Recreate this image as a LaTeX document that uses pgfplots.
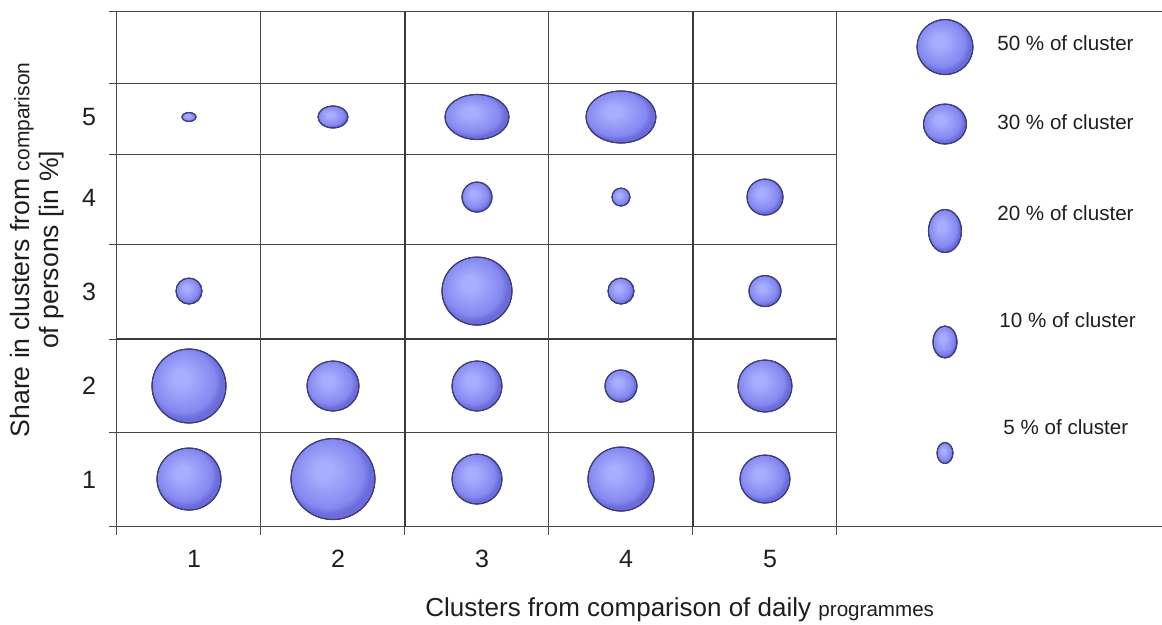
\documentclass[border=0pt]{standalone}
\usepackage{fontspec}
\setmainfont{Liberation Sans}
\usepackage{pgfplots}
\pgfplotsset{compat=1.18}
\usepackage{pgfplotstable}

\definecolor{bubA}{RGB}{168,174,255}
\definecolor{bubB}{RGB}{133,137,240}
\definecolor{bubC}{RGB}{106,108,218}
\definecolor{bubedge}{RGB}{62,62,135}
\definecolor{gridc}{RGB}{72,72,72}
\definecolor{labc}{RGB}{30,30,30}

\pgfdeclareradialshading{bub}{\pgfpoint{-6bp}{6bp}}{color(0bp)=(bubA); color(5bp)=(bubA); color(21bp)=(bubB); color(25bp)=(bubC); color(50bp)=(bubC)}

% x = cluster of daily programmes, y = cluster of persons, w/h = bubble diameters (px)
\pgfplotstableread{
x y w h
1 4.862 14 9
2 4.862 30 22
3 4.862 64 45
4 4.862 70 52
3 4.01 30 30
4 4.01 18 18
5 4.01 36 36
1 3.01 26 26
3 3.01 70 68
4 3.01 26 26
5 3.01 32 31
1 2.0 74 74
2 2.0 52 50
3 2.0 50 50
4 2.0 32 32
5 2.0 54 52
1 1.01 64 62
2 1.01 84 81
3 1.01 50 50
4 1.01 66 64
5 1.01 50 48
}\bubbles

\pgfplotstableread{
x y w h
6.25 5.606 56 55
6.25 4.787 43 40
6.25 3.649 33 43
6.25 2.468 24 32
6.25 1.287 16 21
}\legendbubbles

\begin{document}
\begin{tikzpicture}
\useasboundingbox (-58.5pt,-49pt) rectangle (522.5pt,263.5pt);
\begin{axis}[
  at={(0,0)}, anchor=south west,
  scale only axis, width=523pt, height=257.5pt,
  xmin=0.5, xmax=7.764, ymin=0.5, ymax=5.979,
  clip=false,
  axis line style={gridc, line width=0.5pt},
  xtick={1,2,3,4,5}, ytick={1,2,3,4,4.862}, yticklabels={1,2,3,4,5},
  major tick length=0pt,
  minor xtick={0.5,1.5,2.5,3.5,4.5,5.5},
  minor ytick={0.5,1.5,2.5,3.51,4.468,5.223,5.979},
  minor tick length=4pt,
  tick align=outside, tick pos=left,
  minor tick style={gridc, line width=0.5pt},
  tick label style={font=\fontsize{12.5}{14}\selectfont, text=labc},
  /pgf/number format/assume math mode=true,
  xticklabel style={yshift=-8pt, xshift=2.5pt},
  yticklabel style={xshift=-7pt},
  xlabel={Clusters from comparison of daily {\fontsize{10.3}{12}\selectfont programmes}},
  xlabel style={at={(axis description cs:0.538,-0.160)}, anchor=center, font=\fontsize{13}{14}\selectfont, text=labc},
  ylabel={Share in clusters from {\fontsize{10.5}{12}\selectfont comparison}\\of persons [in \%]},
  ylabel style={at={(axis description cs:-0.0765,0.538)}, anchor=center, align=center, font=\fontsize{13.3}{14.5}\selectfont, text=labc},
  bubble/.style={scatter, only marks, mark=*, mark size=0pt,
    mark options={draw=none, fill=none},
    visualization depends on={\thisrow{w}\as\bw},
    visualization depends on={\thisrow{h}\as\bh},
    scatter/@pre marker code/.code={\pgfscope
      \shade[shading=bub] (0pt,0pt) ellipse [x radius=0.25*\bw pt, y radius=0.25*\bh pt];
      \draw[bubedge, line width=0.55pt] (0pt,0pt) ellipse [x radius=0.25*\bw pt, y radius=0.25*\bh pt];},
    scatter/@post marker code/.code={\endpgfscope}},
  thin grid/.style={gridc, line width=0.5pt, forget plot},
  thick grid/.style={gridc!80!black, line width=1pt, forget plot},
]
% grid lines
\addplot[thin grid] coordinates {(0.5,1.5) (5.5,1.5)};
\addplot[thin grid] coordinates {(0.5,3.51) (5.5,3.51)};
\addplot[thin grid] coordinates {(0.5,4.468) (5.5,4.468)};
\addplot[thin grid] coordinates {(0.5,5.223) (5.5,5.223)};
\addplot[thick grid] coordinates {(0.5,2.5) (5.5,2.5)};
\addplot[thin grid] coordinates {(1.5,0.5) (1.5,5.979)};
\addplot[thin grid] coordinates {(3.5,0.5) (3.5,5.979)};
\addplot[thick grid] coordinates {(2.5,0.5) (2.5,5.979)};
\addplot[thick grid] coordinates {(4.5,0.5) (4.5,5.979)};
\addplot[thin grid] coordinates {(5.5,0.5) (5.5,5.979)};
% bubbles
\addplot[bubble] table[x=x, y=y] {\bubbles};
\addplot[bubble] table[x=x, y=y] {\legendbubbles};
% legend texts
\begin{scope}[every node/.style={anchor=west, font=\fontsize{10.3}{12}\selectfont, inner sep=0pt, text=labc}]
\node at (axis cs:6.611,5.649) {50 \% of cluster};
\node at (axis cs:6.611,4.809) {30 \% of cluster};
\node at (axis cs:6.611,3.840) {20 \% of cluster};
\node at (axis cs:6.625,2.702) {10 \% of cluster};
\node at (axis cs:6.653,1.564) {5 \% of cluster};
\end{scope}
\end{axis}
\end{tikzpicture}
\end{document}
